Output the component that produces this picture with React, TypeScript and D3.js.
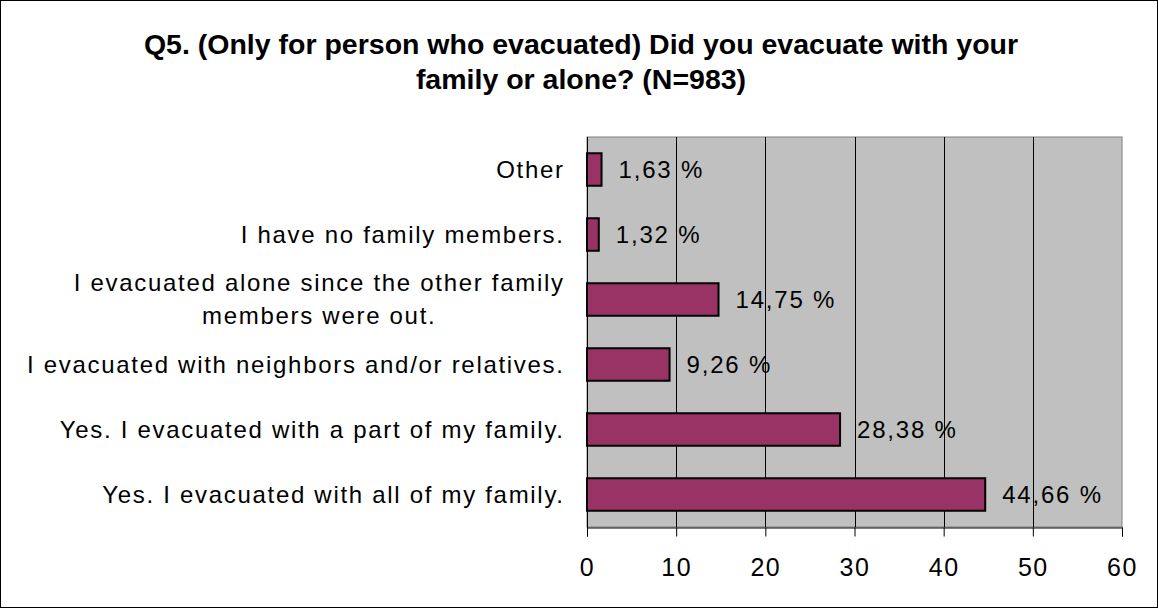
import React, { useEffect, useRef } from "react";
import * as d3 from "d3";

const categories: string[][] = [
  ["Other"],
  ["I have no family members."],
  ["I evacuated alone since the other family", "members were out."],
  ["I evacuated with neighbors and/or relatives."],
  ["Yes. I evacuated with a part of my family."],
  ["Yes. I evacuated with all of my family."],
];
const values: number[] = [1.63, 1.32, 14.75, 9.26, 28.38, 44.66];
const xTicks: number[] = [0, 10, 20, 30, 40, 50, 60];
const titleLines: string[] = [
  "Q5. (Only for person who evacuated) Did you evacuate with your",
  "family or alone? (N=983)",
];

const W = 1158;
const H = 608;
const FONT = "'Liberation Sans', Arial, sans-serif";

export default function App() {
  const ref = useRef<SVGSVGElement | null>(null);

  useEffect(() => {
    const svg = d3.select(ref.current);
    svg.selectAll("*").remove();

    svg.append("rect").attr("x", 0.5).attr("y", 0.5).attr("width", W - 1).attr("height", H - 1)
      .attr("fill", "#fff").attr("stroke", "#000").attr("stroke-width", 1);

    // title
    svg.append("g").selectAll("text").data(titleLines).join("text")
      .attr("x", 581).attr("y", (_d, i) => 54 + i * 35)
      .attr("text-anchor", "middle")
      .attr("font-family", FONT).attr("font-weight", "bold").attr("font-size", 28.5)
      .attr("fill", "#000").text((d) => d);

    const x = d3.scaleLinear().domain([0, 60]).range([587, 1122]);
    const keys = categories.map((c) => c.join(" "));
    const y = d3.scaleBand<string>().domain(keys).range([137, 527]).paddingInner(0.5).paddingOuter(0.25);

    // plot background
    svg.append("rect").attr("x", x(0)).attr("y", 137).attr("width", x(60) - x(0)).attr("height", 527 - 137)
      .attr("fill", "#c0c0c0").attr("stroke", "#808080").attr("stroke-width", 1);

    // grid
    svg.append("g").selectAll("line").data(xTicks.filter((t) => t > 0 && t < 60)).join("line")
      .attr("x1", (d) => Math.round(x(d)) + 0.5).attr("x2", (d) => Math.round(x(d)) + 0.5)
      .attr("y1", 137).attr("y2", 527).attr("stroke", "#000").attr("stroke-width", 1);

    // axis
    const axis = d3.axisBottom(x).tickValues(xTicks).tickSize(9).tickPadding(22).tickFormat((d) => String(d));
    const ag = svg.append("g").attr("transform", "translate(0,527.5)").call(axis);
    ag.select(".domain").attr("stroke", "#000");
    ag.selectAll(".tick line").attr("stroke", "#000");
    ag.selectAll(".tick text").attr("font-family", FONT).attr("font-size", 25).attr("fill", "#000")
      .attr("letter-spacing", 1.5);

    svg.append("line").attr("x1", x(0) + 0.5).attr("x2", x(0) + 0.5).attr("y1", 137).attr("y2", 536)
      .attr("stroke", "#000");

    // bars
    svg.append("g").selectAll("rect").data(values).join("rect")
      .attr("x", x(0)).attr("y", (_d, i) => y(keys[i])!)
      .attr("width", (d) => x(d) - x(0)).attr("height", y.bandwidth())
      .attr("fill", "#993366").attr("stroke", "#000").attr("stroke-width", 2);

    // value labels
    svg.append("g").selectAll("text").data(values).join("text")
      .attr("x", (d) => x(d) + 17).attr("y", (_d, i) => y(keys[i])! + y.bandwidth() / 2)
      .attr("dy", "0.35em")
      .attr("font-family", FONT).attr("font-size", 24).attr("letter-spacing", 1.8).attr("fill", "#000")
      .text((d) => d.toFixed(2).replace(".", ",") + " %");

    // category labels
    const LS = 1.7;
    const lg = svg.append("g");
    categories.forEach((lines, i) => {
      const cy = y(keys[i])! + y.bandwidth() / 2;
      const lh = 33;
      const t = lg.append("text").attr("font-family", FONT).attr("font-size", 24)
        .attr("letter-spacing", LS).attr("fill", "#000").attr("text-anchor", "middle");
      const spans = lines.map((ln, j) =>
        t.append("tspan").attr("y", cy + (j - (lines.length - 1) / 2) * lh).attr("dy", "0.35em").text(ln)
      );
      const widths = spans.map((s) => (s.node() as SVGTSpanElement).getComputedTextLength());
      const maxW = Math.max(...widths);
      const cx = 563 + LS - maxW / 2;
      spans.forEach((s) => s.attr("x", cx));
    });
  }, []);

  return <svg ref={ref} width={W} height={H} style={{ display: "block", position: "absolute", left: 0, top: 0 }} />;
}
